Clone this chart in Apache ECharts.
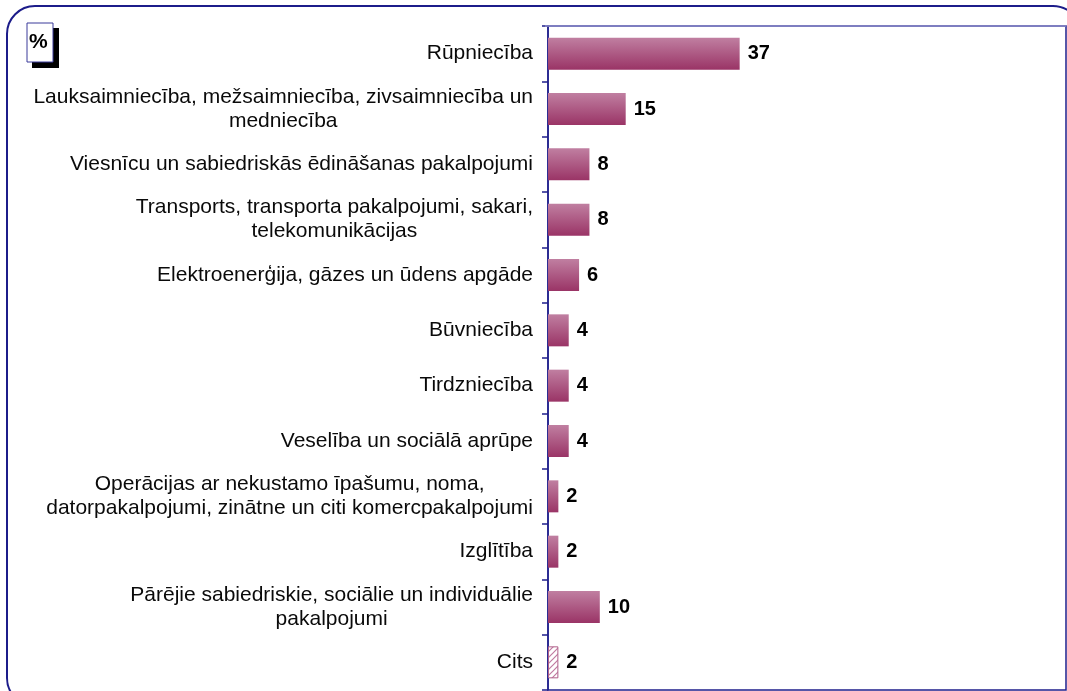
<!DOCTYPE html>
<html>
<head>
<meta charset="utf-8">
<script src="https://cdn.jsdelivr.net/npm/echarts@6/dist/echarts.min.js"></script>
<style>
  html, body { margin: 0; padding: 0; background: #fff; }
  #chart { width: 1067px; height: 691px; }
</style>
</head>
<body>
<div id="chart"></div>
<script>
// Nozares (top to bottom) and their shares, %
const categories = [
  'Rūpniecība',
  'Lauksaimniecība, mežsaimniecība, zivsaimniecība un\nmedniecība',
  'Viesnīcu un sabiedriskās ēdināšanas pakalpojumi',
  'Transports, transporta pakalpojumi, sakari,\ntelekomunikācijas',
  'Elektroenerģija, gāzes un ūdens apgāde',
  'Būvniecība',
  'Tirdzniecība',
  'Veselība un sociālā aprūpe',
  'Operācijas ar nekustamo īpašumu, noma,\ndatorpakalpojumi, zinātne un citi komercpakalpojumi',
  'Izglītība',
  'Pārējie sabiedriskie, sociālie un individuālie\npakalpojumi',
  'Cits'
];
const values = [37, 15, 8, 8, 6, 4, 4, 4, 2, 2, 10, 2];
// the last category is drawn hatched
const hatchedCategories = ['Cits'];

const FONT = 'Liberation Sans, Arial, sans-serif';
const NAVY = '#1f1f8c';

// diagonal hatch pattern for the "Cits" bar
function hatchPattern() {
  const c = document.createElement('canvas');
  c.width = 6; c.height = 6;
  const g = c.getContext('2d');
  g.fillStyle = '#ffffff';
  g.fillRect(0, 0, 6, 6);
  g.strokeStyle = '#c07aa0';
  g.lineWidth = 1.2;
  g.beginPath();
  g.moveTo(0, 6); g.lineTo(6, 0);
  g.moveTo(-3, 3); g.lineTo(3, -3);
  g.moveTo(3, 9); g.lineTo(9, 3);
  g.stroke();
  return c;
}

const barGradient = {
  type: 'linear', x: 0, y: 0, x2: 0, y2: 1,
  colorStops: [
    { offset: 0, color: '#c07fa1' },
    { offset: 1, color: '#9a3466' }
  ]
};

const seriesData = values.map((v, i) => {
  if (hatchedCategories.includes(categories[i])) {
    return {
      value: v,
      itemStyle: {
        color: { image: hatchPattern(), repeat: 'repeat' },
        borderColor: '#b0608a',
        borderWidth: 1
      }
    };
  }
  return { value: v };
});

const chart = echarts.init(document.getElementById('chart'), null, { renderer: 'canvas' });

chart.setOption({
  animation: false,
  backgroundColor: '#ffffff',
  grid: {
    left: 548, right: 1, top: 26, bottom: 1,
    show: true,
    borderColor: NAVY,
    borderWidth: 1.5,
    backgroundColor: 'transparent'
  },
  xAxis: {
    type: 'value',
    min: 0, max: 100,
    show: false
  },
  yAxis: {
    type: 'category',
    data: categories,
    inverse: true,
    axisLine: { show: true, lineStyle: { color: NAVY, width: 1.5 } },
    axisTick: { show: true, length: 6, lineStyle: { color: NAVY, width: 1.5 } },
    splitLine: { show: false },
    axisLabel: {
      margin: 15,
      formatter: v => v.split('\n').map(l => '{c|' + l + '}').join('\n'),
      rich: {
        c: {
          align: 'center',
          fontFamily: FONT,
          fontSize: 21,
          lineHeight: 24,
          color: '#0a0a0a'
        }
      }
    }
  },
  series: [{
    type: 'bar',
    data: seriesData,
    barWidth: 32,
    itemStyle: { color: barGradient },
    label: {
      show: true,
      position: 'right',
      distance: 8,
      fontFamily: FONT,
      fontSize: 20,
      fontWeight: 'bold',
      color: '#000000'
    }
  }],
  graphic: [
    // rounded outer frame
    {
      type: 'rect',
      shape: { x: 7, y: 6, width: 1074, height: 700, r: 28 },
      style: { fill: 'none', stroke: '#1c1c8a', lineWidth: 2 },
      z: 1
    },
    // lighter top edge of the plot area
    {
      type: 'line',
      shape: { x1: 545, y1: 26, x2: 1066, y2: 26 },
      style: { stroke: '#8c8cc8', lineWidth: 1.5 },
      z: 10
    },
    // "%" unit box with shadow
    {
      type: 'rect',
      shape: { x: 32, y: 28, width: 27, height: 40 },
      style: { fill: '#000000' },
      z: 20
    },
    {
      type: 'rect',
      shape: { x: 27, y: 23, width: 26, height: 39 },
      style: { fill: '#ffffff', stroke: '#3a3a9a', lineWidth: 1 },
      z: 21
    },
    {
      type: 'text',
      left: 29, top: 32,
      style: { text: '%', font: 'bold 21px ' + FONT, fill: '#000000' },
      z: 22
    }
  ]
});
</script>
</body>
</html>
